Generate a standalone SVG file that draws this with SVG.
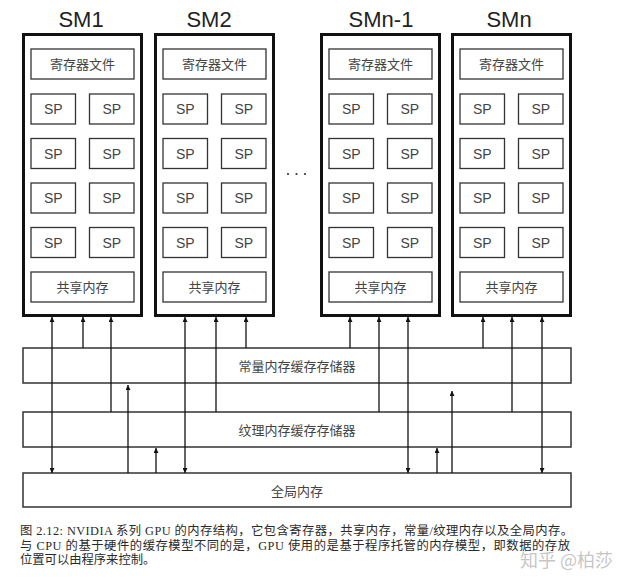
<svg xmlns="http://www.w3.org/2000/svg" width="640" height="586" viewBox="0 0 640 586">
<defs>
<style>
.t{font-family:"Liberation Sans","Noto Sans CJK SC",sans-serif;}
.title{font-size:22px;fill:#222;text-anchor:middle;}
.sm{fill:#fff;stroke:#111;stroke-width:3;}
.in{fill:#fff;stroke:#333;stroke-width:1.3;}
.lbl{font-size:13px;fill:#444;text-anchor:middle;dominant-baseline:central;}
.sp{font-size:14px;fill:#444;text-anchor:middle;dominant-baseline:central;}
.bar{fill:#fff;stroke:#333;stroke-width:1.5;}
.c{stroke:#111;stroke-width:1.3;fill:none;}
.cap{font-family:"Liberation Serif","Noto Sans CJK SC",serif;font-size:12.3px;fill:#2a2a2a;}
</style>
<marker id="ah" viewBox="0 0 6 6" refX="6" refY="3" markerWidth="6" markerHeight="5" markerUnits="userSpaceOnUse" orient="auto-start-reverse">
<path d="M0,0 L6,3 L0,6 z" fill="#111"/>
</marker>
</defs>
<rect width="640" height="586" fill="#fff"/>

<g id="sm1" class="t">
<text class="title" x="81" y="27">SM1</text>
<rect class="sm" x="23.5" y="34.5" width="118" height="281"/>
<rect class="in" x="31" y="49" width="103" height="30"/><text class="lbl" x="82.5" y="64">寄存器文件</text>
<rect class="in" x="31" y="94" width="44.5" height="30"/><text class="sp" x="53.25" y="109">SP</text>
<rect class="in" x="89.5" y="94" width="44.5" height="30"/><text class="sp" x="111.75" y="109">SP</text>
<rect class="in" x="31" y="138.5" width="44.5" height="30"/><text class="sp" x="53.25" y="153.5">SP</text>
<rect class="in" x="89.5" y="138.5" width="44.5" height="30"/><text class="sp" x="111.75" y="153.5">SP</text>
<rect class="in" x="31" y="183" width="44.5" height="30"/><text class="sp" x="53.25" y="198">SP</text>
<rect class="in" x="89.5" y="183" width="44.5" height="30"/><text class="sp" x="111.75" y="198">SP</text>
<rect class="in" x="31" y="227.5" width="44.5" height="30"/><text class="sp" x="53.25" y="242.5">SP</text>
<rect class="in" x="89.5" y="227.5" width="44.5" height="30"/><text class="sp" x="111.75" y="242.5">SP</text>
<rect class="in" x="31" y="272" width="103" height="30"/><text class="lbl" x="82.5" y="287">共享内存</text>
</g>

<g id="sm2" class="t">
<text class="title" x="209" y="27">SM2</text>
<rect class="sm" x="155.5" y="34.5" width="118" height="281"/>
<rect class="in" x="163" y="49" width="103" height="30"/><text class="lbl" x="214.5" y="64">寄存器文件</text>
<rect class="in" x="163" y="94" width="44.5" height="30"/><text class="sp" x="185.25" y="109">SP</text>
<rect class="in" x="221.5" y="94" width="44.5" height="30"/><text class="sp" x="243.75" y="109">SP</text>
<rect class="in" x="163" y="138.5" width="44.5" height="30"/><text class="sp" x="185.25" y="153.5">SP</text>
<rect class="in" x="221.5" y="138.5" width="44.5" height="30"/><text class="sp" x="243.75" y="153.5">SP</text>
<rect class="in" x="163" y="183" width="44.5" height="30"/><text class="sp" x="185.25" y="198">SP</text>
<rect class="in" x="221.5" y="183" width="44.5" height="30"/><text class="sp" x="243.75" y="198">SP</text>
<rect class="in" x="163" y="227.5" width="44.5" height="30"/><text class="sp" x="185.25" y="242.5">SP</text>
<rect class="in" x="221.5" y="227.5" width="44.5" height="30"/><text class="sp" x="243.75" y="242.5">SP</text>
<rect class="in" x="163" y="272" width="103" height="30"/><text class="lbl" x="214.5" y="287">共享内存</text>
</g>

<g id="ellipsis">
<circle cx="288" cy="174" r="1.1" fill="#333"/>
<circle cx="296.5" cy="174" r="1.1" fill="#333"/>
<circle cx="305" cy="174" r="1.1" fill="#333"/>
</g>

<g id="smn-1" class="t">
<text class="title" x="381" y="27">SMn-1</text>
<rect class="sm" x="321.5" y="34.5" width="118" height="281"/>
<rect class="in" x="329" y="49" width="103" height="30"/><text class="lbl" x="380.5" y="64">寄存器文件</text>
<rect class="in" x="329" y="94" width="44.5" height="30"/><text class="sp" x="351.25" y="109">SP</text>
<rect class="in" x="387.5" y="94" width="44.5" height="30"/><text class="sp" x="409.75" y="109">SP</text>
<rect class="in" x="329" y="138.5" width="44.5" height="30"/><text class="sp" x="351.25" y="153.5">SP</text>
<rect class="in" x="387.5" y="138.5" width="44.5" height="30"/><text class="sp" x="409.75" y="153.5">SP</text>
<rect class="in" x="329" y="183" width="44.5" height="30"/><text class="sp" x="351.25" y="198">SP</text>
<rect class="in" x="387.5" y="183" width="44.5" height="30"/><text class="sp" x="409.75" y="198">SP</text>
<rect class="in" x="329" y="227.5" width="44.5" height="30"/><text class="sp" x="351.25" y="242.5">SP</text>
<rect class="in" x="387.5" y="227.5" width="44.5" height="30"/><text class="sp" x="409.75" y="242.5">SP</text>
<rect class="in" x="329" y="272" width="103" height="30"/><text class="lbl" x="380.5" y="287">共享内存</text>
</g>

<g id="smn" class="t">
<text class="title" x="509" y="27">SMn</text>
<rect class="sm" x="452.5" y="34.5" width="118" height="281"/>
<rect class="in" x="460" y="49" width="103" height="30"/><text class="lbl" x="511.5" y="64">寄存器文件</text>
<rect class="in" x="460" y="94" width="44.5" height="30"/><text class="sp" x="482.25" y="109">SP</text>
<rect class="in" x="518.5" y="94" width="44.5" height="30"/><text class="sp" x="540.75" y="109">SP</text>
<rect class="in" x="460" y="138.5" width="44.5" height="30"/><text class="sp" x="482.25" y="153.5">SP</text>
<rect class="in" x="518.5" y="138.5" width="44.5" height="30"/><text class="sp" x="540.75" y="153.5">SP</text>
<rect class="in" x="460" y="183" width="44.5" height="30"/><text class="sp" x="482.25" y="198">SP</text>
<rect class="in" x="518.5" y="183" width="44.5" height="30"/><text class="sp" x="540.75" y="198">SP</text>
<rect class="in" x="460" y="227.5" width="44.5" height="30"/><text class="sp" x="482.25" y="242.5">SP</text>
<rect class="in" x="518.5" y="227.5" width="44.5" height="30"/><text class="sp" x="540.75" y="242.5">SP</text>
<rect class="in" x="460" y="272" width="103" height="30"/><text class="lbl" x="511.5" y="287">共享内存</text>
</g>

<g id="constant-cache" class="t">
<rect class="bar" x="23" y="348" width="548" height="35"/>
<text class="lbl" x="297" y="366">常量内存缓存存储器</text>
</g>
<g id="texture-cache" class="t">
<rect class="bar" x="23" y="412" width="548" height="35"/>
<text class="lbl" x="297" y="430">纹理内存缓存存储器</text>
</g>
<g id="global-memory" class="t">
<rect class="bar" x="23" y="473" width="548" height="34"/>
<text class="lbl" x="297" y="491">全局内存</text>
</g>

<g id="connectors">
<line class="c" x1="52" y1="473" x2="52" y2="317" marker-start="url(#ah)" marker-end="url(#ah)"/>
<line class="c" x1="83" y1="348" x2="83" y2="317" marker-end="url(#ah)"/>
<line class="c" x1="111" y1="412" x2="111" y2="317" marker-end="url(#ah)"/>
<line class="c" x1="128" y1="473" x2="128" y2="385" marker-end="url(#ah)"/>
<line class="c" x1="156" y1="473" x2="156" y2="448" marker-end="url(#ah)"/>
<line class="c" x1="185" y1="473" x2="185" y2="317" marker-start="url(#ah)" marker-end="url(#ah)"/>
<line class="c" x1="216" y1="412" x2="216" y2="317" marker-end="url(#ah)"/>
<line class="c" x1="246" y1="348" x2="246" y2="317" marker-end="url(#ah)"/>
<line class="c" x1="350" y1="348" x2="350" y2="317" marker-end="url(#ah)"/>
<line class="c" x1="379" y1="412" x2="379" y2="317" marker-end="url(#ah)"/>
<line class="c" x1="408" y1="473" x2="408" y2="317" marker-start="url(#ah)" marker-end="url(#ah)"/>
<line class="c" x1="437" y1="473" x2="437" y2="448" marker-end="url(#ah)"/>
<line class="c" x1="452" y1="473" x2="452" y2="391" marker-end="url(#ah)"/>
<line class="c" x1="483" y1="348" x2="483" y2="317" marker-end="url(#ah)"/>
<line class="c" x1="512" y1="412" x2="512" y2="317" marker-end="url(#ah)"/>
<line class="c" x1="542" y1="473" x2="542" y2="317" marker-start="url(#ah)" marker-end="url(#ah)"/>
</g>

<g id="caption">
<text class="cap" x="20" y="534.5" textLength="553" lengthAdjust="spacing">图 2.12: NVIDIA 系列 GPU 的内存结构，它包含寄存器，共享内存，常量/纹理内存以及全局内存。</text>
<text class="cap" x="20" y="549.5" textLength="550" lengthAdjust="spacing">与 CPU 的基于硬件的缓存模型不同的是，GPU 使用的是基于程序托管的内存模型，即数据的存放</text>
<text class="cap" x="20" y="563.5">位置可以由程序来控制。</text>
</g>
<g id="watermark">
<text x="520" y="567" font-family="'Noto Sans CJK SC',sans-serif" font-size="18" fill="#bbb" fill-opacity="0.85">知乎 @柏莎</text>
</g>
</svg>
